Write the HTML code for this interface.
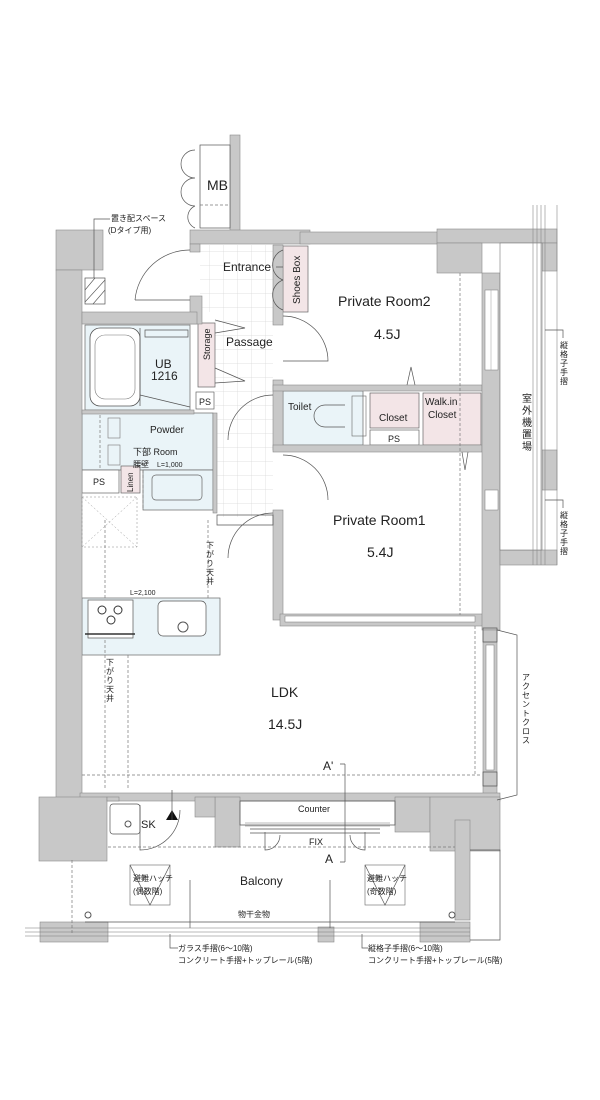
<!DOCTYPE html>
<html><head><meta charset="utf-8"><style>
html,body{margin:0;padding:0;background:#fff;}
svg{display:block;}
text{font-family:"Liberation Sans","Noto Sans CJK JP",sans-serif;fill:#222;}
.w{fill:#c8c8c8;stroke:#8a8a8a;stroke-width:0.6;}
.l{fill:none;stroke:#555;stroke-width:0.7;}
.d{fill:none;stroke:#777;stroke-width:0.7;stroke-dasharray:3,2;}
.pk{fill:#f3e5e7;stroke:#666;stroke-width:0.7;}
.bl{fill:#eaf4f8;stroke:#666;stroke-width:0.7;}
.jp{font-size:8px;}
</style></head><body>
<svg width="600" height="1100" viewBox="0 0 600 1100" xmlns="http://www.w3.org/2000/svg">
<defs>
<pattern id="tile" width="14" height="14" patternUnits="userSpaceOnUse">
<path d="M14 0V14M0 14H14" stroke="#d8d8d8" stroke-width="0.7" fill="none"/>
</pattern>
</defs>

<rect x="200" y="245" width="80" height="67" fill="url(#tile)"/>
<rect x="215" y="312" width="58" height="205" fill="url(#tile)"/>

<rect class="bl" x="85" y="325" width="105" height="85"/>
<rect class="bl" x="82" y="413" width="131" height="57"/>
<rect class="bl" x="143" y="470" width="70" height="40"/>
<rect class="bl" x="82" y="598" width="138" height="57"/>
<rect class="bl" x="283" y="391" width="80" height="54"/>
<rect class="pk" x="283" y="246" width="25" height="66"/>
<rect class="pk" x="198" y="323" width="17" height="64"/>
<rect class="pk" x="370" y="393" width="49" height="35"/>
<rect class="pk" x="423" y="393" width="58" height="52"/>
<rect class="pk" x="121" y="466" width="19" height="27"/>
<rect x="370" y="430" width="49" height="15" fill="#fff" stroke="#666" stroke-width="0.7"/>
<rect x="196" y="392" width="18" height="17" fill="#fff" stroke="#666" stroke-width="0.7"/>
<rect x="82" y="470" width="37" height="23" fill="#fff" stroke="#666" stroke-width="0.7"/>

<!-- walls -->
<rect class="w" x="230" y="135" width="10" height="100"/>
<rect class="w" x="190" y="230" width="120" height="14"/>
<rect class="w" x="300" y="232" width="160" height="12"/>
<rect class="w" x="437" y="229" width="120" height="14"/>
<rect class="w" x="437" y="243" width="45" height="30"/>
<rect class="w" x="542" y="243" width="15" height="28"/>
<rect class="w" x="190" y="244" width="10" height="8"/>
<rect class="w" x="190" y="296" width="12" height="28"/>
<rect class="w" x="56" y="230" width="47" height="40"/>
<rect class="w" x="56" y="270" width="26" height="530"/>
<rect class="w" x="82" y="312" width="115" height="12"/>
<rect class="w" x="82" y="410" width="112" height="4"/>
<rect class="w" x="213" y="413" width="4" height="100"/>
<rect class="w" x="273" y="245" width="10" height="80"/>
<rect class="w" x="273" y="380" width="10" height="70"/>
<rect class="w" x="273" y="510" width="10" height="110"/>
<rect class="w" x="273" y="385" width="209" height="6"/>
<rect class="w" x="273" y="445" width="209" height="7"/>
<rect class="w" x="280" y="614" width="205" height="12"/>
<rect x="285" y="616" width="190" height="6" fill="#fff" stroke="#777" stroke-width="0.5"/>
<rect class="w" x="482" y="273" width="18" height="357"/>
<rect class="w" x="500" y="550" width="57" height="15"/>
<rect class="w" x="542" y="450" width="15" height="40"/>
<rect class="w" x="483" y="630" width="14" height="165"/>
<rect class="w" x="80" y="793" width="420" height="8"/>
<rect class="w" x="39" y="797" width="68" height="64"/>
<rect class="w" x="107" y="797" width="12" height="4"/>
<rect class="w" x="215" y="797" width="25" height="50"/>
<rect class="w" x="195" y="797" width="20" height="20"/>
<rect class="w" x="395" y="797" width="35" height="35"/>
<rect class="w" x="430" y="797" width="70" height="54"/>
<rect class="w" x="455" y="820" width="15" height="100"/>
<rect class="w" x="40" y="922" width="68" height="20"/>
<rect class="w" x="318" y="927" width="16" height="15"/>
<rect class="w" x="420" y="922" width="50" height="20"/>

<!-- windows on right wall -->
<rect x="485" y="290" width="13" height="80" fill="#fff" stroke="#777" stroke-width="0.5"/>
<path d="M491 290V370" stroke="#999" stroke-width="0.5"/>
<rect x="485" y="490" width="13" height="20" fill="#fff" stroke="#777" stroke-width="0.5"/>
<rect x="486" y="645" width="8" height="125" fill="#fff" stroke="#777" stroke-width="0.5"/>

<!-- MB -->
<rect x="200" y="145" width="30" height="83" fill="#fff" stroke="#555" stroke-width="0.7"/>
<path class="d" d="M200 205H230"/>
<path class="l" d="M195 150a14 14 0 0 0 0 28M195 178a14 14 0 0 0 0 28M195 206a12 12 0 0 0 0 22"/>
<text x="207" y="190" font-size="14">MB</text>

<rect x="85" y="278" width="20" height="26" fill="none" stroke="#555" stroke-width="0.7"/>
<path d="M85 290l10-12M85 302l20-22M93 304l12-14" stroke="#555" stroke-width="0.6"/>
<path class="l" d="M94 278V219H110"/>
<text x="111" y="221" class="jp">置き配スペース</text>
<text x="108" y="233" class="jp">(Dタイプ用)</text>
<path class="l" d="M190 250A55 55 0 0 0 135 300M135 300H190"/>

<text x="223" y="271" font-size="12">Entrance</text>
<path class="l" d="M276 267H283M283 250a16 16 0 0 0 0 30M283 280a16 16 0 0 0 0 30"/>
<text transform="translate(300,304) rotate(-90)" font-size="10">Shoes Box</text>
<text transform="translate(210,360) rotate(-90)" font-size="9">Storage</text>
<path class="l" d="M215 320l30 8-30 5M215 368l30 13-30 2"/>
<text x="226" y="346" font-size="12">Passage</text>
<path class="l" d="M283 316A45 45 0 0 1 328 361H283"/>
<path class="l" d="M273 395A45 45 0 0 0 228 440"/>
<path class="l" d="M283 455A45 45 0 0 1 328 500"/>
<path class="l" d="M273 513A45 45 0 0 0 228 558"/>
<path class="l" d="M217 515H273V525H217Z"/>

<rect x="90" y="328" width="50" height="78" rx="10" fill="#fff" stroke="#555" stroke-width="0.8"/>
<rect x="95" y="335" width="40" height="64" rx="10" fill="none" stroke="#777" stroke-width="0.6"/>
<path class="l" d="M140 395l50 12M140 328V406M145 330H188V337H145Z"/>
<text x="155" y="368" font-size="12">UB</text>
<text x="151" y="380" font-size="12">1216</text>
<text x="199" y="405" font-size="9">PS</text>

<path class="d" d="M100 415V468M143 470V510"/>
<rect x="108" y="418" width="12" height="20" fill="none" stroke="#777" stroke-width="0.6"/>
<rect x="108" y="445" width="12" height="20" fill="none" stroke="#777" stroke-width="0.6"/>
<rect x="152" y="475" width="50" height="25" rx="4" fill="none" stroke="#666" stroke-width="0.7"/>
<text x="150" y="433" font-size="10">Powder</text>
<text x="133" y="455" font-size="9">下部 Room</text>
<text x="133" y="467" font-size="8">腰壁</text>
<text x="157" y="467" font-size="7">L=1,000</text>
<text transform="translate(133,492) rotate(-90)" font-size="8">Linen</text>
<text x="93" y="485" font-size="9">PS</text>

<rect x="82" y="497" width="55" height="50" fill="none" stroke="#888" stroke-width="0.5" stroke-dasharray="2,2"/>
<path d="M82 497L137 547M137 497L82 547" stroke="#999" stroke-width="0.5" stroke-dasharray="2,2"/>

<text x="338" y="306" font-size="14">Private Room2</text>
<text x="374" y="339" font-size="14">4.5J</text>
<path class="d" d="M460 273V615"/>
<path class="l" d="M407 385l4-18 4 18"/>
<path class="l" d="M462 452l3 18 3-18"/>
<text x="288" y="410" font-size="10">Toilet</text>
<path class="l" d="M345 405H325a10 10 0 0 0 0 22H345"/>
<rect x="352" y="396" width="14" height="40" fill="none" stroke="#666" stroke-width="0.6"/>
<text x="379" y="421" font-size="10">Closet</text>
<text x="425" y="405" font-size="10">Walk.in</text>
<text x="428" y="418" font-size="10">Closet</text>
<text x="388" y="442" font-size="9">PS</text>
<text x="333" y="525" font-size="14">Private Room1</text>
<text x="367" y="557" font-size="14">5.4J</text>

<rect x="500" y="243" width="42" height="307" fill="#fff" stroke="#777" stroke-width="0.6"/>
<path d="M533 205V565M537 205V565M541 205V565M545 205V565" stroke="#888" stroke-width="0.6"/>
<path d="M557 205V565" stroke="#888" stroke-width="0.6"/>
<text transform="translate(522,402)" font-size="10"><tspan x="0" dy="0">室</tspan><tspan x="0" dy="12">外</tspan><tspan x="0" dy="12">機</tspan><tspan x="0" dy="12">置</tspan><tspan x="0" dy="12">場</tspan></text>
<path class="l" d="M545 330H563V338M545 500H563V508"/>
<text transform="translate(560,348)" class="jp"><tspan x="0" dy="0">縦</tspan><tspan x="0" dy="9">格</tspan><tspan x="0" dy="9">子</tspan><tspan x="0" dy="9">手</tspan><tspan x="0" dy="9">摺</tspan></text>
<text transform="translate(560,518)" class="jp"><tspan x="0" dy="0">縦</tspan><tspan x="0" dy="9">格</tspan><tspan x="0" dy="9">子</tspan><tspan x="0" dy="9">手</tspan><tspan x="0" dy="9">摺</tspan></text>

<path class="d" d="M105 520V790M128 655V790M208 520V598"/>
<text transform="translate(206,548)" class="jp"><tspan x="0" dy="0">下</tspan><tspan x="0" dy="9">が</tspan><tspan x="0" dy="9">り</tspan><tspan x="0" dy="9">天</tspan><tspan x="0" dy="9">井</tspan></text>
<text transform="translate(106,665)" class="jp"><tspan x="0" dy="0">下</tspan><tspan x="0" dy="9">が</tspan><tspan x="0" dy="9">り</tspan><tspan x="0" dy="9">天</tspan><tspan x="0" dy="9">井</tspan></text>
<text x="130" y="595" font-size="7">L=2,100</text>
<rect x="88" y="600" width="45" height="38" fill="#fff" stroke="#555" stroke-width="0.7"/>
<circle cx="102" cy="610" r="4" fill="none" stroke="#333"/><circle cx="118" cy="610" r="4" fill="none" stroke="#333"/><circle cx="111" cy="620" r="4" fill="none" stroke="#333"/>
<path d="M85 634H135" stroke="#333" stroke-width="1.5"/>
<rect x="158" y="601" width="48" height="35" rx="5" fill="#fff" stroke="#555" stroke-width="0.7"/>
<circle cx="183" cy="627" r="5" fill="none" stroke="#555"/>

<path class="d" d="M82 775H480M475 626V775"/>
<text x="271" y="697" font-size="14">LDK</text>
<text x="268" y="729" font-size="14">14.5J</text>
<path class="l" d="M497 630l20 5V795l-20 5"/>
<text transform="translate(522,680)" class="jp"><tspan x="0" dy="0">ア</tspan><tspan x="0" dy="9">ク</tspan><tspan x="0" dy="9">セ</tspan><tspan x="0" dy="9">ン</tspan><tspan x="0" dy="9">ト</tspan><tspan x="0" dy="9">ク</tspan><tspan x="0" dy="9">ロ</tspan><tspan x="0" dy="9">ス</tspan></text>
<path class="l" d="M483 628h14v14h-14zM483 772h14v14h-14z"/>

<path class="l" d="M345 764V862M340 764H345M340 862H345"/>
<text x="323" y="770" font-size="12">A'</text>
<text x="325" y="863" font-size="12">A</text>

<path class="l" d="M240 801H395V825H240Z"/>
<path d="M245 823H390M245 826H390" stroke="#777" stroke-width="0.5"/>
<text x="298" y="812" font-size="9">Counter</text>
<text x="309" y="845" font-size="9">FIX</text>
<path class="l" d="M250 829H380M250 833H380"/>
<path class="l" d="M265 832V850A15 15 0 0 0 280 835M365 832V850A15 15 0 0 1 350 835"/>
<rect x="110" y="804" width="30" height="30" rx="3" fill="#fff" stroke="#555" stroke-width="0.7"/>
<circle cx="128" cy="824" r="3" fill="none" stroke="#555"/>
<text x="141" y="828" font-size="11">SK</text>
<path class="l" d="M140 805V850A40 40 0 0 0 180 810"/>
<path d="M166 820l6-10 6 10z" fill="#111"/>
<path class="l" d="M172 820V790"/>
<path class="d" d="M108 847H455"/>
<path class="d" d="M72 860V935"/>
<rect x="130" y="865" width="40" height="40" fill="none" stroke="#666" stroke-width="0.6"/>
<path class="l" d="M130 865l20 40 20-40"/>
<text x="133" y="881" class="jp">避難ハッチ</text>
<text x="133" y="894" class="jp">(偶数階)</text>
<rect x="365" y="865" width="40" height="40" fill="none" stroke="#666" stroke-width="0.6"/>
<path class="l" d="M365 865l20 40 20-40"/>
<text x="367" y="881" class="jp">避難ハッチ</text>
<text x="367" y="894" class="jp">(奇数階)</text>
<text x="240" y="885" font-size="12">Balcony</text>
<text x="238" y="917" class="jp">物干金物</text>
<path class="l" d="M190 880V928M330 880V928"/>
<path class="l" d="M85 922H455"/>
<circle cx="88" cy="915" r="3" fill="none" stroke="#555"/>
<circle cx="452" cy="915" r="3" fill="none" stroke="#555"/>
<path d="M25 928H470M25 932H470M25 936H470" stroke="#777" stroke-width="0.6"/>
<path class="l" d="M170 934V948H178M362 934V948H368"/>
<text x="178" y="951" class="jp">ガラス手摺(6〜10階)</text>
<text x="178" y="963" class="jp">コンクリート手摺+トップレール(5階)</text>
<text x="368" y="951" class="jp">縦格子手摺(6〜10階)</text>
<text x="368" y="963" class="jp">コンクリート手摺+トップレール(5階)</text>
<path class="l" d="M470 850H500V940H470"/>
</svg>
</body></html>
